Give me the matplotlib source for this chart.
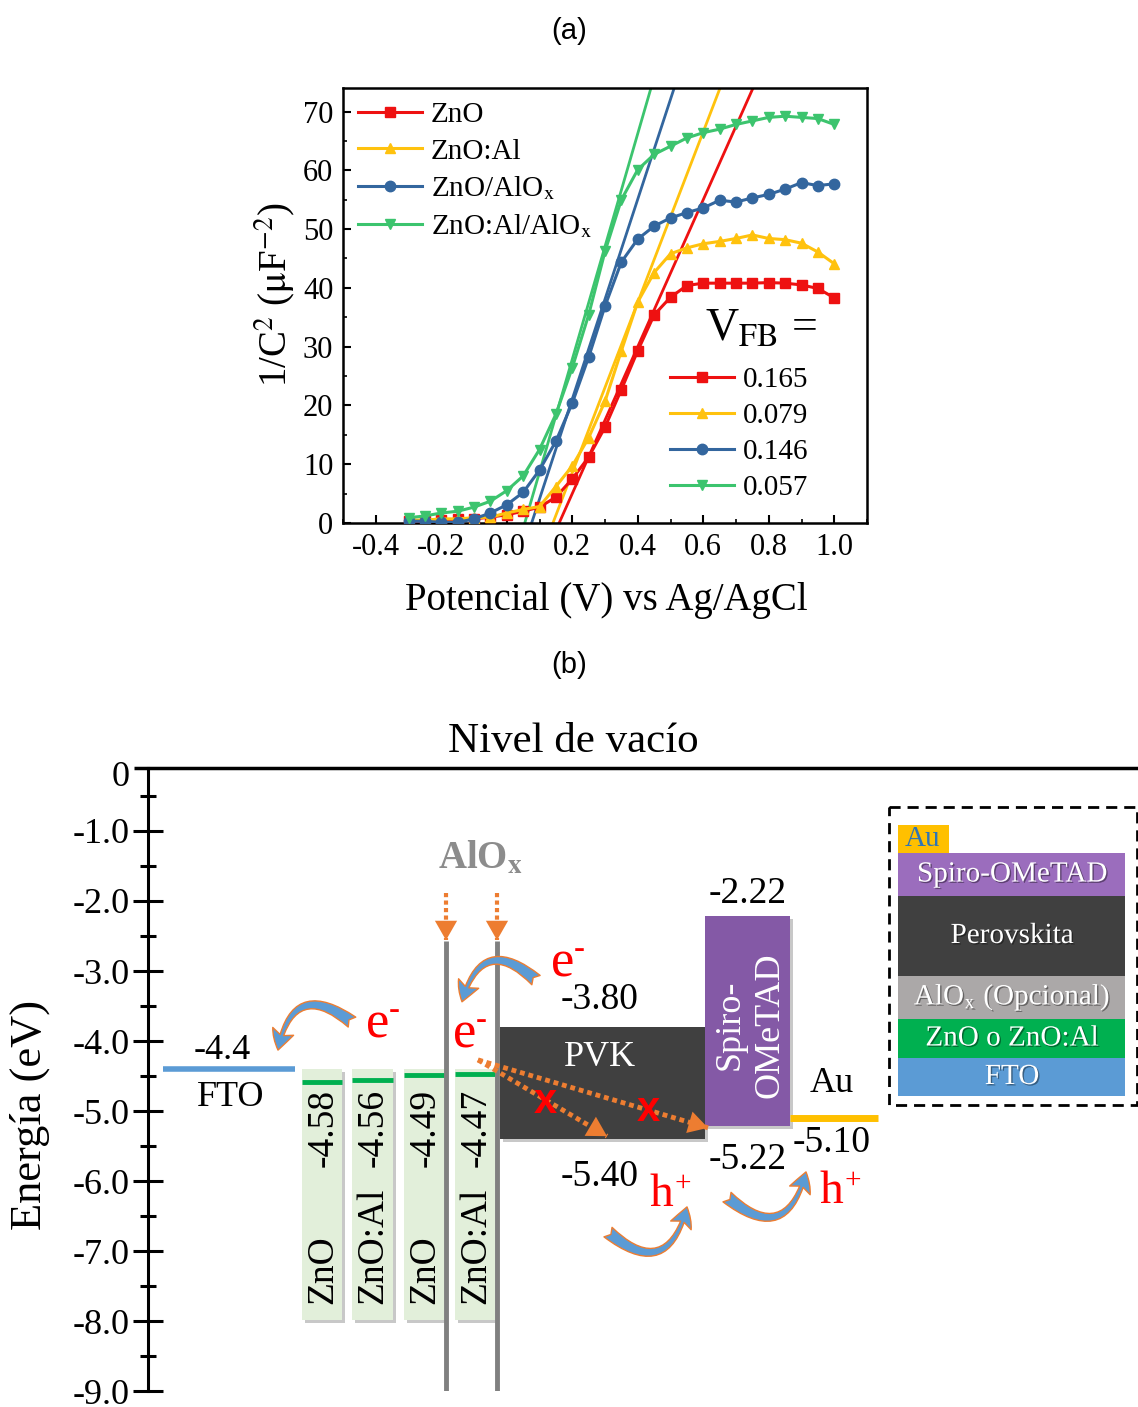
import numpy as np
import matplotlib
matplotlib.use("Agg")
import matplotlib.pyplot as plt
import matplotlib.patheffects as pe
from matplotlib.patches import Rectangle, FancyArrowPatch
from matplotlib.lines import Line2D
from matplotlib.ticker import MultipleLocator

plt.rcParams['font.family'] = ['Liberation Serif', 'DejaVu Serif']
plt.rcParams['mathtext.fontset'] = 'stix'

# ---------------- (a) Mott-Schottky data ----------------
potential = [-0.30, -0.25, -0.20, -0.15, -0.10, -0.05, 0.00, 0.05, 0.10,
             0.15, 0.20, 0.25, 0.30, 0.35, 0.40, 0.45, 0.50, 0.55, 0.60,
             0.65, 0.70, 0.75, 0.80, 0.85, 0.90, 0.95, 1.00]
c2_zno = [0.3, 0.3, 0.5, 0.6, 0.7, 1.0, 1.4, 2.0, 2.7, 4.4, 7.5, 11.2, 16.3,
          22.7, 29.3, 35.4, 38.4, 40.4, 40.8, 40.8, 40.8, 40.8, 40.9, 40.8,
          40.5, 39.9, 38.3]
c2_znoal = [0.5, 0.5, 0.7, 0.7, 0.9, 1.0, 1.7, 2.3, 2.8, 6.2, 9.7, 14.5, 20.7,
            29.3, 37.6, 42.6, 45.8, 46.8, 47.5, 47.9, 48.4, 49.0, 48.4, 48.2,
            47.6, 46.1, 44.1]
c2_zno_alox = [0.3, 0.3, 0.1, 0.1, 0.7, 1.7, 3.1, 5.2, 9.0, 13.9, 20.4, 28.2,
               36.9, 44.4, 48.3, 50.5, 51.9, 52.8, 53.6, 54.9, 54.6, 55.3,
               55.9, 56.8, 57.9, 57.4, 57.7]
c2_znoal_alox = [0.9, 1.2, 1.7, 2.0, 2.7, 3.7, 5.5, 8.0, 12.5, 18.5, 26.4,
                 35.4, 46.2, 55.0, 60.1, 62.7, 64.1, 65.5, 66.4, 67.0, 67.8,
                 68.4, 69.0, 69.2, 69.0, 68.8, 67.8]

sample_names = ['ZnO', 'ZnO:Al', r'ZnO/AlO$_{\mathrm{x}}$', r'ZnO:Al/AlO$_{\mathrm{x}}$']
vfb_labels = ['0.165', '0.079', '0.146', '0.057']
# linear fits: x-intercept (V) and slope
fit_zero = [0.160, 0.141, 0.076, 0.055]
fit_slope = [125, 145, 170, 192]

colors = ['#EE1111', '#FFC20E', '#33669E', '#3CC46E']
markers = ['s', '^', 'o', 'v']

# ---------------- (b) energy levels (eV) ----------------
fto_level = -4.4
etl_levels = [-4.58, -4.56, -4.49, -4.47]
etl_names = ['ZnO', 'ZnO:Al', 'ZnO', 'ZnO:Al']
pvk_cb, pvk_vb = -3.80, -5.40
spiro_lumo, spiro_homo = -2.22, -5.22
au_level = -5.10
energy_ticks = [0, -1, -2, -3, -4, -5, -6, -7, -8, -9]
energy_ticklabels = ['0', '-1.0', '-2.0', '-3.0', '-4.0', '-5.0', '-6.0',
                     '-7.0', '-8.0', '-9.0']

stack_layers = ['Spiro-OMeTAD', 'Perovskita', r'AlO$_{\mathrm{x}}$ (Opcional)',
                'ZnO o ZnO:Al', 'FTO']
stack_colors = ['#9B6DBD', '#404040', '#ABA8A8', '#00B050', '#5B9BD5']

W, H = 1138, 1407


def fig_rect(x0, y0, x1, y1):
    return [x0 / W, 1 - y1 / H, (x1 - x0) / W, (y1 - y0) / H]


fig = plt.figure(figsize=(W / 100, H / 100), dpi=100)
fig.text(569 / W, 1 - 31 / H, '(a)', family='Liberation Sans', fontsize=21,
         ha='center', va='center')
fig.text(569 / W, 1 - 665 / H, '(b)', family='Liberation Sans', fontsize=21,
         ha='center', va='center')

# ===== panel (a) =====
ax = fig.add_axes(fig_rect(343, 88, 867, 523))
all_c2 = [c2_zno, c2_znoal, c2_zno_alox, c2_znoal_alox]
handles = []
for x0, k, col in zip(fit_zero, fit_slope, colors):
    xs = np.array([x0, x0 + 80 / k])
    ax.plot(xs, k * (xs - x0), color=col, lw=2.0, zorder=2)
for c2, col, mk, name in zip(all_c2, colors, markers, sample_names):
    h, = ax.plot(potential, c2, color=col, marker=mk, ms=7.5, lw=2.2,
                 label=name, zorder=3)
    handles.append(h)

ax.set_xlim(-0.5, 1.1)
ax.set_ylim(0, 74)
ax.xaxis.set_minor_locator(MultipleLocator(0.1))
ax.yaxis.set_major_locator(MultipleLocator(10))
ax.yaxis.set_minor_locator(MultipleLocator(5))
ax.set_xticks([-0.4, -0.2, 0.0, 0.2, 0.4, 0.6, 0.8, 1.0])
ax.set_xticklabels(['-0.4', '-0.2', '0.0', '0.2', '0.4', '0.6', '0.8', '1.0'])
ax.tick_params(which='major', direction='in', length=6, width=1.5, labelsize=22, pad=7)
ax.tick_params(which='minor', direction='in', length=3, width=1.2)
for s in ax.spines.values():
    s.set_linewidth(1.8)
ax.set_xlabel('Potencial (V) vs Ag/AgCl', fontsize=28)
ax.set_ylabel(r'1/C$^{2}$ ($\mathrm{\mu}$F$^{-2}$)', fontsize=28)
ax.xaxis.set_label_coords(0.502, -0.136)
ax.yaxis.set_label_coords(-0.087, 0.524)

leg1 = ax.legend(handles=handles, loc='upper left', bbox_to_anchor=(0.0286, 0.968),
                 frameon=False, fontsize=21, handlelength=2.2, handletextpad=0.3,
                 labelspacing=0.34, borderpad=0, borderaxespad=0)
ax.add_artist(leg1)
proxies = [Line2D([], [], color=c, marker=m, ms=7.5, lw=2.2) for c, m in zip(colors, markers)]
ax.legend(proxies, vfb_labels, loc='upper left', bbox_to_anchor=(0.624, 0.359),
          frameon=False, fontsize=21, handlelength=2.2, handletextpad=0.3,
          labelspacing=0.33, borderpad=0, borderaxespad=0)
ax.text(0.691, 0.42, r'V$_{\mathrm{FB}}$ =', transform=ax.transAxes, fontsize=33,
        ha='left', va='baseline')

# ===== panel (b) =====
bx = fig.add_axes(fig_rect(148, 761, 1138, 1391))
bx.set_xlim(148, 1138)
bx.set_ylim(-9, 0)
for side in ['top', 'right', 'bottom']:
    bx.spines[side].set_visible(False)
bx.spines['left'].set_linewidth(2.2)
bx.spines['left'].set_bounds(-9, -0.1)
bx.plot([134, 1138], [-0.1, -0.1], color='k', lw=2.5, clip_on=False, solid_capstyle='butt')
bx.set_xticks([])
bx.set_yticks(energy_ticks)
bx.set_yticklabels(energy_ticklabels)
bx.yaxis.set_minor_locator(MultipleLocator(0.5))
bx.tick_params(axis='y', which='major', direction='inout', length=22, width=2.2,
               labelsize=26, pad=2)
bx.tick_params(axis='y', which='minor', direction='inout', length=11, width=2.2)
bx.yaxis.get_major_ticks()[0].tick1line.set_visible(False)
bx.yaxis.get_major_ticks()[0].label1.set_verticalalignment('top')
bx.text(573, 0.27, 'Nivel de vacío', fontsize=31, ha='center', va='center', clip_on=False)
fig.text(30 / W, 1 - 1115 / H, 'Energía (eV)', fontsize=32, rotation=90,
         ha='center', va='center')

orange = '#ED7D31'
blue = '#5B9BD5'


def dotted_arrow(start, end, lw=3.5):
    # dotted shaft plus a solid head at the end point
    bx.plot([start[0], end[0]], [start[1], end[1]], color=orange, lw=lw,
            ls=(0, (1, 0.8)), dash_capstyle='butt', zorder=6)
    tip_from = (start[0] + 0.9 * (end[0] - start[0]), start[1] + 0.9 * (end[1] - start[1]))
    bx.add_patch(FancyArrowPatch(tip_from, end, arrowstyle='-|>,head_length=0.7,head_width=0.4',
                                 mutation_scale=20, color=orange, lw=0,
                                 shrinkA=0, shrinkB=0, zorder=6))


def carrier(x, y, base, sup, size, dx, dy):
    bx.text(x, y, base, fontsize=size, color='#FF0000', ha='center', va='center', zorder=7)
    bx.annotate(sup, xy=(x, y), xytext=(dx, dy), textcoords='offset points',
                fontsize=size * 0.62, color='#FF0000', ha='center', va='center', zorder=7)


# FTO
bx.plot([163, 295], [fto_level, fto_level], color=blue, lw=4, solid_capstyle='butt')
bx.text(222, fto_level + 0.27, f'{fto_level:.1f}', fontsize=26, ha='center', va='center')
bx.text(231, fto_level - 0.40, 'FTO', fontsize=26, ha='center', va='center')

# electron transport layers
etl_x = [(302, 342), (352, 393), (404, 445), (455, 495)]
etl_top, etl_bottom = -4.40, -7.99
for (x0, x1), lvl, name in zip(etl_x, etl_levels, etl_names):
    bx.add_patch(Rectangle((x0 + 3, etl_bottom - 0.04), x1 - x0, etl_top - etl_bottom,
                           fc='#C8C8C8', ec='none', zorder=1))
    bx.add_patch(Rectangle((x0, etl_bottom), x1 - x0, etl_top - etl_bottom,
                           fc='#E2EFDA', ec='none', zorder=2))
    bx.plot([x0, x1], [lvl, lvl], color='#00B050', lw=3.5, solid_capstyle='butt', zorder=3)
    xc = (x0 + x1) / 2 + 1
    bx.text(xc, -4.68, f'{lvl:.2f}', rotation=90, fontsize=27, ha='center', va='top', zorder=4)
    bx.text(xc, -7.76, name, rotation=90, fontsize=27, ha='center', va='bottom', zorder=4)

# AlOx interlayer
for x in [446, 497]:
    bx.plot([x, x], [-2.57, -9.0], color='#808080', lw=3.5, solid_capstyle='butt', zorder=5)
    dotted_arrow((x, -1.89), (x, -2.56), lw=3)
bx.text(480, -1.41, r'AlO$_{\mathbf{x}}$', fontsize=28, fontweight='bold', color='#8C8C8C',
        ha='center', va='center')

# perovskite
bx.add_patch(Rectangle((503, pvk_vb - 0.04), 205, pvk_cb - pvk_vb, fc='#C8C8C8', ec='none', zorder=1))
bx.add_patch(Rectangle((500, pvk_vb), 205, pvk_cb - pvk_vb, fc='#404040', ec='none', zorder=2))
bx.text(600, pvk_cb - 0.43, 'PVK', fontsize=26, color='white', ha='center', va='center', zorder=4)
bx.text(600, pvk_cb + 0.39, f'{pvk_cb:.2f}', fontsize=27, ha='center', va='center')
bx.text(600, pvk_vb - 0.54, f'{pvk_vb:.2f}', fontsize=27, ha='center', va='center')

# spiro-OMeTAD
bx.add_patch(Rectangle((708, spiro_homo - 0.04), 85, spiro_lumo - spiro_homo, fc='#C8C8C8', ec='none', zorder=1))
bx.add_patch(Rectangle((705, spiro_homo), 85, spiro_lumo - spiro_homo, fc='#8459A6', ec='none', zorder=3))
bx.text(750, -3.77, 'Spiro-\nOMeTAD', rotation=90, fontsize=26, color='white',
        ha='center', va='center', linespacing=1.3, zorder=4)
bx.text(748, spiro_lumo + 0.33, f'{spiro_lumo:.2f}', fontsize=27, ha='center', va='center')
bx.text(748, spiro_homo - 0.48, f'{spiro_homo:.2f}', fontsize=27, ha='center', va='center')

# gold contact
bx.plot([790, 878], [au_level, au_level], color='#FFC000', lw=5, solid_capstyle='butt')
bx.text(832, -4.60, 'Au', fontsize=26, ha='center', va='center')
bx.text(832, au_level - 0.36, f'{au_level:.2f}', fontsize=27, ha='center', va='center')

# blocked transfer paths through the perovskite
for end in [(607, -5.36), (708, -5.24)]:
    dotted_arrow((478, -4.27), end)
for xc, yc in [(545, -4.87), (648, -4.99)]:
    bx.text(xc, yc, 'x', family='Liberation Sans', fontweight='bold', fontsize=30,
            color='#FF0000', ha='center', va='center', zorder=7)

# carrier labels
for xc, yc in [(378, -3.77), (465, -3.91), (563, -2.89)]:
    carrier(xc, yc, 'e', '-', 38, 12, 10)
for xc, yc in [(661, -6.20), (831, -6.16)]:
    carrier(xc, yc, 'h', '+', 34, 16, 8)

# curved transfer arrows
curves = [((352, -3.73), (278, -4.13)), ((536, -3.13), (462, -3.44)),
          ((608, -6.73), (687, -6.37)), ((727, -6.23), (806, -5.87))]
for start, end in curves:
    bx.add_patch(FancyArrowPatch(start, end, connectionstyle='arc3,rad=0.8',
                                 arrowstyle='fancy,head_length=0.7,head_width=0.8,tail_width=0.45',
                                 mutation_scale=20, fc=blue, ec=orange, lw=1,
                                 shrinkA=0, shrinkB=0, zorder=8))

# device stack sketch
ov = fig.add_axes([0, 0, 1, 1])
ov.set_xlim(0, W)
ov.set_ylim(H, 0)
ov.axis('off')
ov.add_patch(Rectangle((889, 807), 248, 298, fill=False, ec='k', lw=2, ls=(0, (4, 2.5))))
layer_edges = [853, 896, 976, 1019, 1058, 1096]
shadow = [pe.withSimplePatchShadow(offset=(1, -1), shadow_rgbFace='k', alpha=0.4)]
for name, col, top, bot in zip(stack_layers, stack_colors, layer_edges[:-1], layer_edges[1:]):
    ov.add_patch(Rectangle((898, top), 227, bot - top, fc=col, ec='none'))
    ov.text(1012, (top + bot) / 2, name, fontsize=21, color='white', ha='center',
            va='center', path_effects=shadow)
ov.add_patch(Rectangle((898, 825), 51, 28, fc='#FFC000', ec='none'))
ov.text(923, 839, 'Au', fontsize=21, color='#2E75B6', ha='center', va='center')

fig.savefig('out.png', dpi=100)
